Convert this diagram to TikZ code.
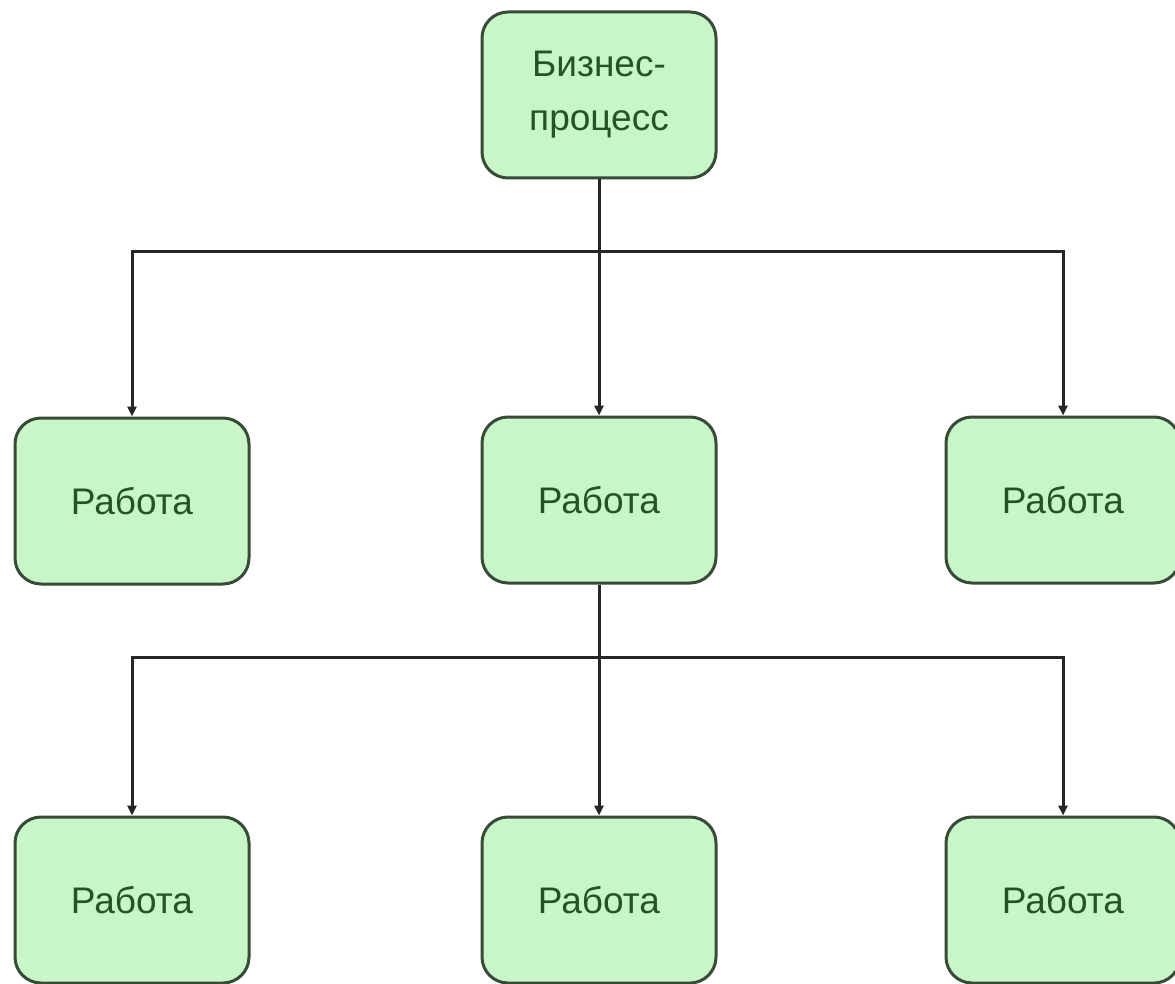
\documentclass[tikz,border=0pt]{standalone}
\usepackage{fontspec}
\setmainfont{Liberation Sans}
\usetikzlibrary{arrows.meta}
\definecolor{boxfill}{RGB}{200,246,200}
\definecolor{boxline}{RGB}{55,75,55}
\definecolor{boxtext}{RGB}{35,85,35}
\begin{document}
\begin{tikzpicture}[x=1pt,y=-1pt,
  box/.style={draw=boxline, line width=3pt, fill=boxfill, rounded corners=26pt,
    minimum width=234pt, minimum height=166pt, inner sep=0pt,
    text=boxtext, font=\fontsize{37}{54}\selectfont, align=center},
  conn/.style={draw=black!85, line width=3pt, -{Triangle[length=10pt,width=9pt]}}]
\useasboundingbox (0,0) rectangle (1175,984);
\fill[white] (0,0) rectangle (1175,984);
\clip (0,0) rectangle (1175,984);
\node[box] (top) at (599,95) {Бизнес-\\процесс};
\node[box] (w1) at (132,501) {Работа};
\node[box] (w2) at (599,500) {Работа};
\node[box] (w3) at (1063,500) {Работа};
\node[box] (v1) at (132,900) {Работа};
\node[box] (v2) at (599,900) {Работа};
\node[box] (v3) at (1063,900) {Работа};
\coordinate (bus1) at (599,252);
\coordinate (bus2) at (599,657);
\draw[conn] (top.south) -- (bus1) -| (w1.north);
\draw[conn] (top.south) -- (bus1) -| (w3.north);
\draw[conn] (top.south) -- (w2.north);
\draw[conn] (w2.south) -- (bus2) -| (v1.north);
\draw[conn] (w2.south) -- (bus2) -| (v3.north);
\draw[conn] (w2.south) -- (v2.north);
\end{tikzpicture}
\end{document}
